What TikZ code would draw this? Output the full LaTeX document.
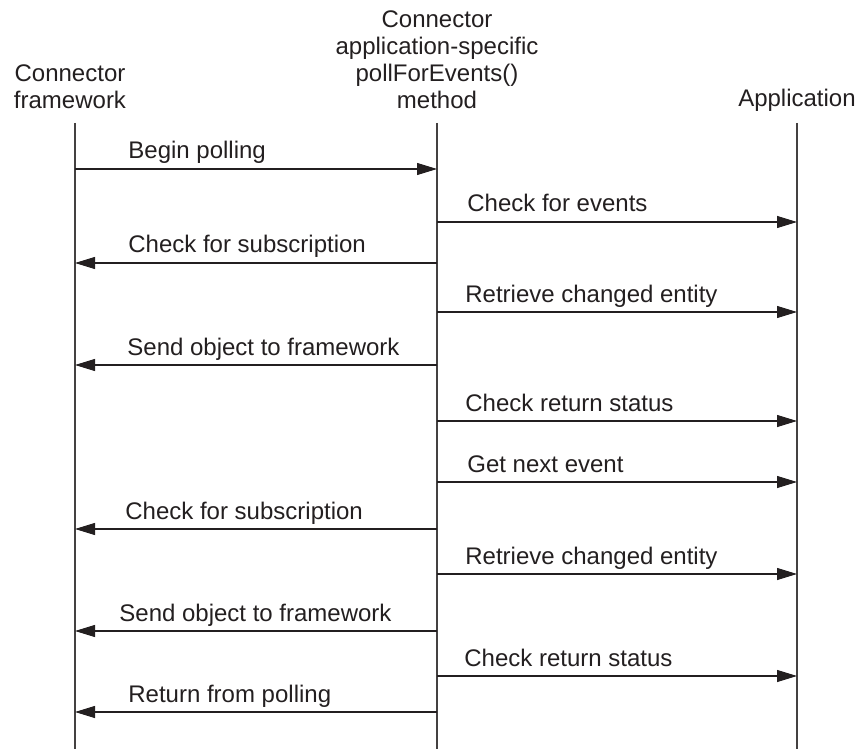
\documentclass[tikz,border=0pt]{standalone}
\usepackage{fontspec}
\setmainfont{Liberation Sans}
\usetikzlibrary{arrows.meta}
\definecolor{inkgray}{HTML}{231F20}
\tikzset{
  sq life/.style={
    draw=inkgray!85, line width=0.55pt
  },
  sq msg/.style={
    -{Triangle[length=10pt, width=6pt]}, draw=inkgray, line width=0.55pt
  },
  sq label/.style={
    anchor=base west, inner sep=0pt, text=inkgray,
    font=\fontsize{12}{13.5}\selectfont
  },
  sq head/.style={
    anchor=base, inner sep=0pt, align=center, text=inkgray,
    font=\fontsize{12}{13.5}\selectfont
  }
}

\begin{document}
\begin{tikzpicture}[x=0.5pt, y=-0.5pt]
\useasboundingbox (0,0) rectangle (858,749);

% ====== Participants ======
\node[sq head] (fwhead) at (70,109) {Connector\\framework};
\node[sq head] (pmhead) at (437,109) {Connector\\application-specific\\pollForEvents()\\method};
\node[sq head] (aphead) at (797,107) {Application};

% ====== Lifelines ======
\coordinate (topfw) at (75,123);
\coordinate (toppm) at (437,123);
\coordinate (topap) at (797,123);
\coordinate (botfw) at (75,749);
\coordinate (botpm) at (437,749);
\coordinate (botap) at (797,749);
\draw[sq life] (topfw) -- (botfw);
\draw[sq life] (toppm) -- (botpm);
\draw[sq life] (topap) -- (botap);

% ====== Messages ======
\foreach \n/\y/\src/\dst/\lx/\txt in {
  1/169/fw/pm/128/Begin polling,
  2/222/pm/ap/467/Check for events,
  3/263/pm/fw/128/Check for subscription,
  4/312/pm/ap/465/Retrieve changed entity,
  5/365/pm/fw/127/Send object to framework,
  6/421/pm/ap/465/Check return status,
  7/482/pm/ap/467/Get next event,
  8/529/pm/fw/125/Check for subscription,
  9/574/pm/ap/465/Retrieve changed entity,
  10/631/pm/fw/119/Send object to framework,
  11/676/pm/ap/464/Check return status,
  12/712/pm/fw/128/Return from polling}{
  \coordinate (m\n s) at (top\src |- 0,\y);
  \coordinate (m\n e) at (top\dst |- 0,\y);
  \draw[sq msg] (m\n s) -- (m\n e);
  \node[sq label] (m\n l) at (\lx,\y-10) {\txt};
}

\end{tikzpicture}
\end{document}
